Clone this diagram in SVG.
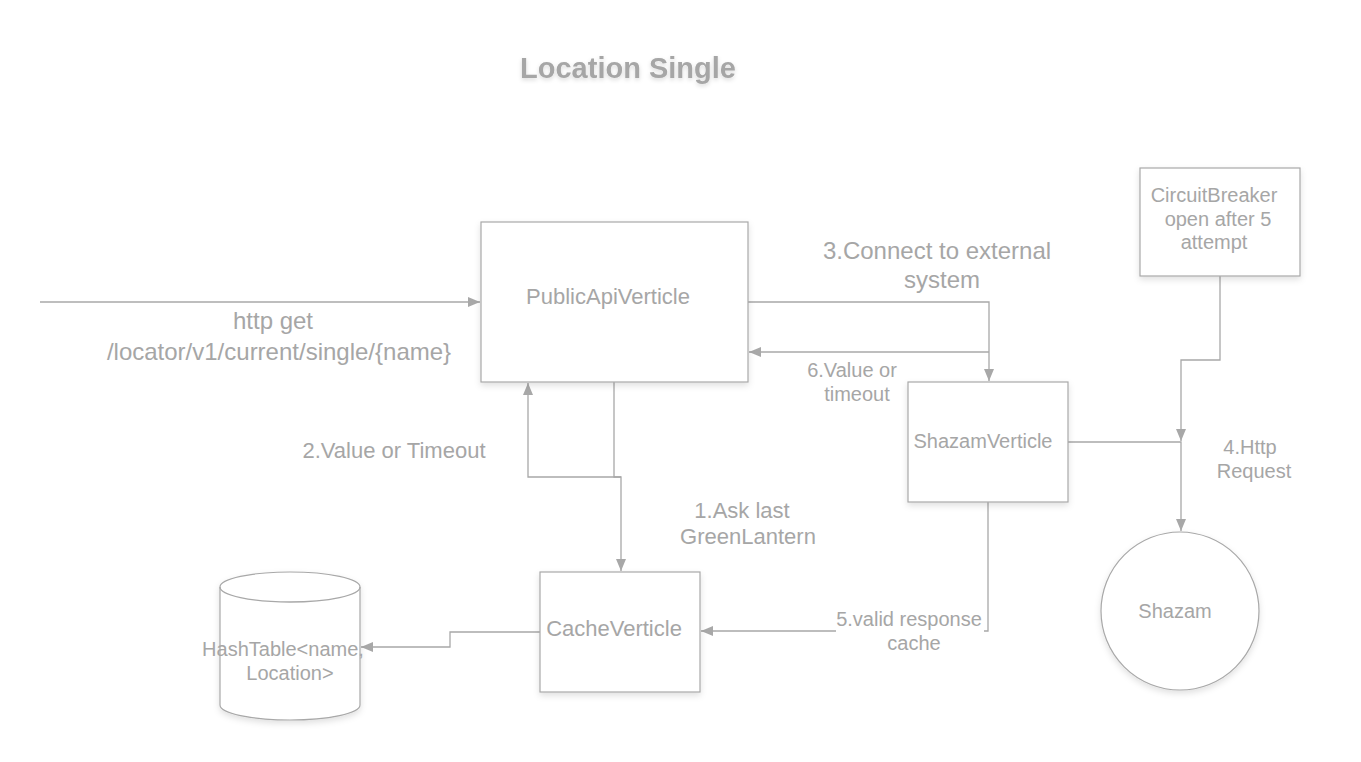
<svg xmlns="http://www.w3.org/2000/svg" width="1361" height="762" viewBox="0 0 1361 762">
<defs>
<style>
.box{fill:#fff;stroke:#a8a8a8;stroke-width:1.2;filter:url(#sh)}
.ln{fill:none;stroke:#a8a8a8;stroke-width:1.3}
.t{font-family:"Liberation Sans",Arial,sans-serif;fill:#a6a6a6;text-anchor:middle}
</style>
<filter id="sh" x="-10%" y="-10%" width="130%" height="130%">
<feDropShadow dx="0" dy="3" stdDeviation="3" flood-color="#000" flood-opacity="0.12"/>
</filter>
<filter id="tsh" x="-10%" y="-30%" width="120%" height="180%">
<feDropShadow dx="0" dy="2" stdDeviation="2" flood-color="#000" flood-opacity="0.15"/>
</filter>
<marker id="ar" viewBox="0 0 12 10" refX="12" refY="5" markerWidth="12" markerHeight="10" markerUnits="userSpaceOnUse" orient="auto">
<path d="M0,0 L12,5 L0,10 Z" fill="#a8a8a8"/>
</marker>
</defs>
<rect width="1361" height="762" fill="#fff"/>
<text class="t" x="628" y="78" font-size="29" font-weight="bold" filter="url(#tsh)">Location Single</text>

<g id="connectors">
<path class="ln" d="M40,302 H480" marker-end="url(#ar)"/>
<path class="ln" d="M748,302 H989 V381" marker-end="url(#ar)"/>
<path class="ln" d="M989,352 H749" marker-end="url(#ar)"/>
<path class="ln" d="M614,382 V477 H621 V571" marker-end="url(#ar)"/>
<path class="ln" d="M621,477 H528 V383" marker-end="url(#ar)"/>
<path class="ln" d="M1220,276 V360 H1181 V441" marker-end="url(#ar)"/>
<path class="ln" d="M1068,442 H1181 V531" marker-end="url(#ar)"/>
<path class="ln" d="M988,502 V631 H701" marker-end="url(#ar)"/>
<path class="ln" d="M540,632 H450 V647 H361" marker-end="url(#ar)"/>
<rect x="836" y="603" width="148" height="50" fill="#fff"/>
<text class="t" font-size="24"><tspan x="273" y="329">http get</tspan><tspan x="279" y="360">/locator/v1/current/single/{name}</tspan></text>
<text class="t" font-size="24"><tspan x="937" y="259">3.Connect to external</tspan><tspan x="942" y="288">system</tspan></text>
<text class="t" font-size="20"><tspan x="852" y="377">6.Value or</tspan><tspan x="857" y="401">timeout</tspan></text>
<text class="t" font-size="22" x="394" y="458">2.Value or Timeout</text>
<text class="t" font-size="22"><tspan x="742" y="518">1.Ask last</tspan><tspan x="748" y="544">GreenLantern</tspan></text>
<text class="t" font-size="20"><tspan x="1250" y="454">4.Http</tspan><tspan x="1254" y="478">Request</tspan></text>
<text class="t" font-size="20"><tspan x="909" y="626">5.valid response</tspan><tspan x="914" y="650">cache</tspan></text>
</g>

<g id="public-api">
<rect class="box" x="481" y="222" width="267" height="160"/>
<text class="t" font-size="22" x="608" y="304">PublicApiVerticle</text>
</g>
<g id="cache">
<rect class="box" x="540" y="572" width="160" height="120"/>
<text class="t" font-size="22" x="614" y="636">CacheVerticle</text>
</g>
<g id="shazam-verticle">
<rect class="box" x="908" y="382" width="160" height="120"/>
<text class="t" font-size="20" x="983" y="448">ShazamVerticle</text>
</g>
<g id="circuit-breaker">
<rect class="box" x="1140" y="168" width="160" height="108"/>
<text class="t" font-size="20"><tspan x="1214" y="202">CircuitBreaker</tspan><tspan x="1218" y="226">open after 5</tspan><tspan x="1214" y="249">attempt</tspan></text>
</g>
<g id="shazam">
<circle class="box" cx="1180" cy="611" r="79"/>
<text class="t" font-size="20" x="1175" y="618">Shazam</text>
</g>
<g id="hashtable">
<path class="box" d="M220,587 A70,15 0 0 1 360,587 V705 A70,15 0 0 1 220,705 Z"/>
<path class="ln" d="M220,587 A70,15 0 0 0 360,587"/>
<text class="t" font-size="20"><tspan x="283" y="656">HashTable&lt;name,</tspan><tspan x="290" y="680">Location&gt;</tspan></text>
</g>
</svg>
